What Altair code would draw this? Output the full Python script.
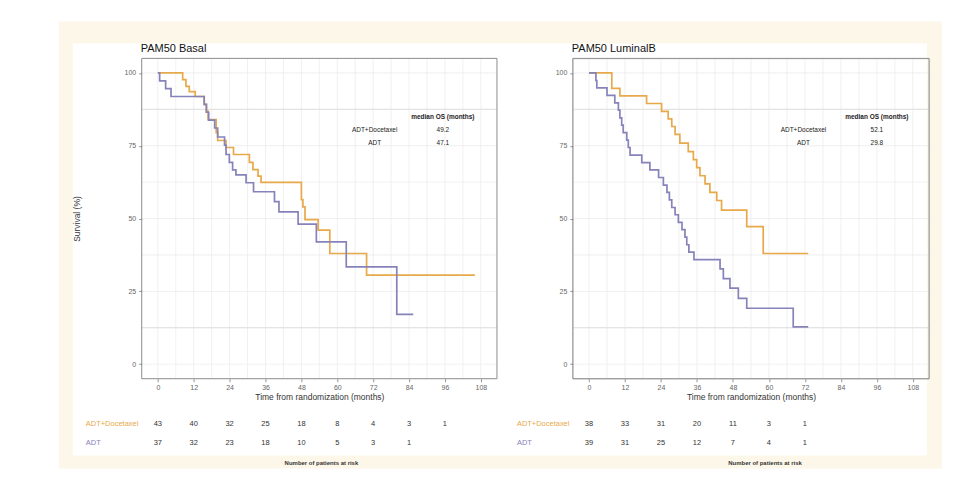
import altair as alt
import pandas as pd

# ---------------- data ----------------
x_ticks = [0, 12, 24, 36, 48, 60, 72, 84, 96, 108]
y_ticks = [0, 25, 50, 75, 100]
x_minor = [6, 18, 30, 42, 54, 66, 78, 90, 102]
y_minor = [12.5, 37.5, 62.5, 87.5]
y_minor_strong = [12.5, 87.5]
arms = ["ADT+Docetaxel", "ADT"]

# PAM50 Basal
basal_doc_t = [0, 8.3, 9.4, 10.5, 12.5, 15.5, 16.3, 16.8, 19.5, 20.0, 22.8, 25.3, 30.6, 31.8, 33.5, 34.5, 48.0, 48.5, 49.2, 53.6, 57.5, 69.8, 106.0]
basal_doc_s = [100, 97.7, 95.4, 93.6, 91.9, 89.2, 86.9, 84.0, 79.5, 76.8, 74.4, 72.0, 69.3, 66.8, 64.6, 62.4, 56.5, 54.0, 49.6, 46.0, 38.0, 30.6, 30.6]
basal_adt_t = [0, 0.6, 2.6, 4.4, 15.5, 16.2, 17.0, 19.0, 20.0, 22.3, 22.8, 23.9, 25.0, 26.1, 29.5, 32.0, 39.0, 40.5, 46.9, 53.0, 63.0, 79.9, 85.4]
basal_adt_s = [100, 97.3, 94.6, 91.9, 89.2, 86.5, 83.8, 81.1, 78.0, 75.2, 72.0, 69.3, 66.7, 65.0, 62.3, 59.2, 55.8, 52.3, 48.1, 42.0, 33.4, 17.1, 17.1]
basal_risk_doc = [43, 40, 32, 25, 18, 8, 4, 3, 1]
basal_risk_adt = [37, 32, 23, 18, 10, 5, 3, 1]
basal_median = ["49.2", "47.1"]

# PAM50 LuminalB
lumb_doc_t = [0, 7.6, 10.3, 19.2, 24.2, 26.4, 27.6, 28.7, 30.3, 33.1, 34.8, 35.9, 37.0, 38.7, 40.3, 42.6, 44.2, 52.6, 58.1, 73.1]
lumb_doc_s = [100, 94.7, 92.1, 89.5, 86.8, 84.2, 81.6, 78.9, 75.9, 73.0, 70.2, 67.5, 64.7, 61.9, 59.0, 56.2, 52.9, 47.2, 38.0, 38.0]
lumb_adt_t = [0, 2.3, 2.6, 6.0, 8.6, 9.8, 10.3, 10.9, 11.4, 12.6, 13.1, 13.7, 17.6, 20.3, 23.2, 24.8, 26.0, 26.8, 27.6, 28.7, 29.8, 31.0, 32.0, 32.6, 33.3, 35.0, 43.7, 44.8, 47.0, 49.8, 52.6, 68.1, 73.1]
lumb_adt_s = [100, 97.4, 94.9, 92.3, 89.7, 87.2, 84.6, 82.1, 79.5, 76.9, 74.4, 71.8, 69.2, 66.7, 64.1, 61.5, 59.0, 56.4, 53.8, 51.3, 48.7, 46.2, 43.6, 41.0, 38.5, 35.9, 32.7, 29.4, 26.1, 22.6, 19.2, 12.8, 12.8]
lumb_risk_doc = [38, 33, 31, 20, 11, 3, 1]
lumb_risk_adt = [39, 31, 25, 12, 7, 4, 1]
lumb_median = ["52.1", "29.8"]

# ---------------- style ----------------
ORANGE = "#e8a94a"
PURPLE = "#8682ba"
FONT = "Liberation Sans"
H = 321
XS = alt.Scale(domain=[-5.4, 113.4], nice=False, zero=False)
YS = alt.Scale(domain=[-5, 105], nice=False, zero=False)
one = pd.DataFrame({"k": [0]})


def panel(title, doc_t, doc_s, adt_t, adt_s, risk_doc, risk_adt, medians,
          med_label_x, med_value_x, risk_title_x, width, ytitle, backdrop):
    curves = pd.DataFrame({
        "t": doc_t + adt_t,
        "s": doc_s + adt_s,
        "arm": [arms[0]] * len(doc_t) + [arms[1]] * len(adt_t),
    })
    xax = alt.Axis(values=x_ticks, grid=False, domain=False, tickColor="#777",
                   tickSize=3, tickWidth=0.8, labelFontSize=7, labelColor="#666",
                   labelPadding=2, labelFont=FONT, title="Time from randomization (months)",
                   titleFontSize=8.5, titleFontWeight="normal", titleColor="#333",
                   titleFont=FONT, titlePadding=2, zindex=1)
    yax_kw = dict(values=y_ticks, grid=False, domain=False, tickColor="#777",
                  tickSize=3, tickWidth=0.8, labelFontSize=7, labelColor="#666",
                  labelPadding=3, labelFont=FONT, zindex=1)
    if ytitle:
        yax = alt.Axis(title=ytitle, titleFontSize=8.5, titleFontWeight="normal",
                       titleColor="#333", titleFont=FONT, titleX=-60, titleY=H / 2,
                       **yax_kw)
    else:
        yax = alt.Axis(title=None, **yax_kw)

    X = alt.X("t:Q", scale=XS, axis=xax)
    Y = alt.Y("s:Q", scale=YS, axis=yax)

    layers = []
    if backdrop:
        layers.append(alt.Chart(one).mark_rect(color="white").encode(
            x=alt.value(-141), x2=alt.value(821), y=alt.value(-57), y2=alt.value(421)))
        layers.append(alt.Chart(one).mark_rect(color="#fdf7e9").encode(
            x=alt.value(-83), x2=alt.value(802), y=alt.value(-37), y2=alt.value(411)))
        layers.append(alt.Chart(one).mark_rect(color="white").encode(
            x=alt.value(-69), x2=alt.value(787), y=alt.value(-15), y2=alt.value(398)))

    gx = pd.DataFrame({"t": x_minor + x_ticks})
    gy = pd.DataFrame({"s": y_minor + y_ticks})
    gys = pd.DataFrame({"s": y_minor_strong})
    layers.append(alt.Chart(gx).mark_rule(color="#ececec", strokeWidth=0.8).encode(x=X))
    layers.append(alt.Chart(gy).mark_rule(color="#ececec", strokeWidth=0.8).encode(y=Y))
    layers.append(alt.Chart(gys).mark_rule(color="#e0e0e0", strokeWidth=1).encode(y=Y))

    layers.append(alt.Chart(curves).mark_line(interpolate="step-after", strokeWidth=1.7).encode(
        x=X, y=Y,
        color=alt.Color("arm:N", scale=alt.Scale(domain=arms, range=[ORANGE, PURPLE]), legend=None),
        order=alt.Order("t:Q"),
    ))

    layers.append(alt.Chart(one).mark_rect(fill=None, stroke="#8c8c8c", strokeWidth=1).encode(
        x=alt.value(0), x2=alt.value(width), y=alt.value(0), y2=alt.value(H)))

    # panel title
    layers.append(alt.Chart(one).mark_text(text=title, fontSize=11, font=FONT, color="#111",
                                           align="left", baseline="bottom").encode(
        x=alt.value(-1), y=alt.value(-4)))

    # median OS table
    med = pd.DataFrame({
        "t": [med_label_x, med_label_x, med_value_x, med_value_x],
        "s": [80.4, 75.9, 80.4, 75.9],
        "txt": [arms[0], arms[1], medians[0], medians[1]],
    })
    layers.append(alt.Chart(pd.DataFrame({"t": [med_value_x], "s": [84.9], "txt": ["median OS (months)"]}))
                  .mark_text(fontSize=6.5, fontWeight="bold", font=FONT, color="#222")
                  .encode(x=X, y=Y, text="txt:N"))
    layers.append(alt.Chart(med).mark_text(fontSize=6.5, font=FONT, color="#222")
                  .encode(x=X, y=Y, text="txt:N"))

    # risk table
    rd = pd.DataFrame({"t": x_ticks[:len(risk_doc)], "n": risk_doc})
    ra = pd.DataFrame({"t": x_ticks[:len(risk_adt)], "n": risk_adt})
    layers.append(alt.Chart(rd).mark_text(fontSize=7.5, font=FONT, color="#333").encode(
        x=X, y=alt.value(366), text="n:Q"))
    layers.append(alt.Chart(ra).mark_text(fontSize=7.5, font=FONT, color="#333").encode(
        x=X, y=alt.value(385), text="n:Q"))
    layers.append(alt.Chart(one).mark_text(text=arms[0], fontSize=7.5, font=FONT, color=ORANGE,
                                           align="left").encode(x=alt.value(-56), y=alt.value(366)))
    layers.append(alt.Chart(one).mark_text(text=arms[1], fontSize=7.5, font=FONT, color=PURPLE,
                                           align="left").encode(x=alt.value(-56), y=alt.value(385)))
    layers.append(alt.Chart(pd.DataFrame({"t": [risk_title_x]})).mark_text(
        text="Number of patients at risk", fontSize=6, fontWeight="bold", font=FONT, color="#333").encode(
        x=X, y=alt.value(405)))

    return alt.layer(*layers).properties(width=width, height=H)


p1 = panel("PAM50 Basal", basal_doc_t, basal_doc_s, basal_adt_t, basal_adt_s,
           basal_risk_doc, basal_risk_adt, basal_median, 72.5, 95.3, 54.7, 356,
           "Survival (%)", True)
p2 = panel("PAM50 LuminalB", lumb_doc_t, lumb_doc_s, lumb_adt_t, lumb_adt_s,
           lumb_risk_doc, lumb_risk_adt, lumb_median, 71.5, 96.0, 58.7, 357,
           None, False)

chart = alt.hconcat(p1, p2, spacing=76, bounds="flush").properties(
    padding=0, background="white"
).configure_view(stroke=None).configure(font=FONT)

chart.save("out.html", embed_options={"renderer": "svg", "actions": False})
